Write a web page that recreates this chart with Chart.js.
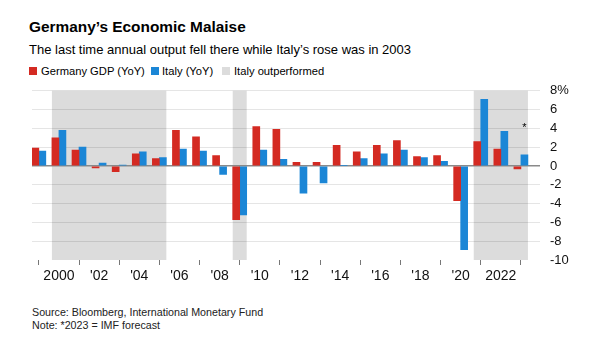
<!DOCTYPE html>
<html>
<head>
<meta charset="utf-8">
<script src="https://cdn.jsdelivr.net/npm/chart.js@4"></script>
<style>
  html, body { margin: 0; padding: 0; background: #fff; }
  body { width: 599px; height: 348px; position: relative; overflow: hidden;
         font-family: "Liberation Sans", Arial, sans-serif; color: #000; }
  .t { position: absolute; left: 29px; white-space: nowrap; }
  #title { top: 19px; font-size: 15.4px; line-height: 16px; font-weight: bold; }
  #sub { top: 43px; font-size: 13px; line-height: 14px; }
  .lg { position: absolute; top: 65px; font-size: 11.2px; line-height: 12px; white-space: nowrap; }
  .sw { position: absolute; top: 67px; width: 8px; height: 8px; }
  #foot { top: 306px; left: 32px; font-size: 10.7px; line-height: 12.5px; color: #222; }
  #wrap { position: absolute; left: 0; top: 73px; width: 599px; height: 217px; }
</style>
</head>
<body>
<div class="t" id="title">Germany’s Economic Malaise</div>
<div class="t" id="sub">The last time annual output fell there while Italy’s rose was in 2003</div>
<div class="sw" style="left:29px;background:#d42a22"></div><div class="lg" style="left:41px">Germany GDP (YoY)</div>
<div class="sw" style="left:151px;background:#1b86d6"></div><div class="lg" style="left:162px">Italy (YoY)</div>
<div class="sw" style="left:222px;background:#dcdcdc"></div><div class="lg" style="left:234px">Italy outperformed</div>
<div class="t" id="foot">Source: Bloomberg, International Monetary Fund<br>Note: *2023 = IMF forecast</div>
<div id="wrap"><canvas id="chart"></canvas></div>
<script>
// data
var years   = [1999, 2000, 2001, 2002, 2003, 2004, 2005, 2006, 2007, 2008, 2009, 2010, 2011,
               2012, 2013, 2014, 2015, 2016, 2017, 2018, 2019, 2020, 2021, 2022, 2023];
var germany = [1.9, 3.0, 1.7, -0.2, -0.6, 1.3, 0.8, 3.8, 3.1, 1.1, -5.7, 4.2, 3.9,
               0.4, 0.4, 2.2, 1.5, 2.2, 2.7, 1.0, 1.1, -3.7, 2.6, 1.8, -0.3];
var italy   = [1.6, 3.8, 2.0, 0.3, 0.1, 1.5, 0.9, 1.8, 1.6, -0.9, -5.2, 1.7, 0.7,
               -2.9, -1.8, 0.05, 0.8, 1.3, 1.7, 0.9, 0.5, -8.9, 7.1, 3.7, 1.2];
var outperformed = [[2000, 2005], [2009, 2009], [2021, 2023]];
var tickYears  = [2000, 2002, 2004, 2006, 2008, 2010, 2012, 2014, 2016, 2018, 2020, 2022];
var tickLabels = ['2000', "'02", "'04", "'06", "'08", "'10", "'12", "'14", "'16", "'18", "'20", '2022'];
var forecastYear = 2023;

var RED = '#d42a22', BLUE = '#1b86d6', SHADE = '#dcdcdc';
var BAR = 7;

function pts(vals) {
    var out = [];
    for (var i = 0; i < years.length; i++) out.push({x: years[i], y: vals[i]});
    return out;
}

var shading = {
    id: 'shading',
    beforeDraw: function (chart) {
        var ctx = chart.ctx, x = chart.scales.x, y = chart.scales.y;
        ctx.save();
        ctx.fillStyle = SHADE;
        for (var i = 0; i < outperformed.length; i++) {
            var l = x.getPixelForValue(outperformed[i][0]) - BAR;
            var r = x.getPixelForValue(outperformed[i][1]) + BAR;
            var t = y.getPixelForValue(8), b = y.getPixelForValue(-10);
            ctx.fillRect(l, t, r - l, b - t);
        }
        ctx.restore();
    },
    afterDatasetsDraw: function (chart) {
        var ctx = chart.ctx, x = chart.scales.x, y = chart.scales.y;
        ctx.save();
        ctx.fillStyle = '#000';
        ctx.font = '11px "Liberation Sans", Arial';
        ctx.textAlign = 'center';
        ctx.textBaseline = 'middle';
        ctx.fillText('*', x.getPixelForValue(forecastYear) + BAR / 2, y.getPixelForValue(4));
        ctx.restore();
    }
};

var chart = new Chart(document.getElementById('chart').getContext('2d'), {
    type: 'bar',
    data: {
        datasets: [
            { label: 'Germany GDP (YoY)', data: pts(germany), backgroundColor: RED, barThickness: BAR },
            { label: 'Italy (YoY)', data: pts(italy), backgroundColor: BLUE, barThickness: BAR }
        ]
    },
    options: {
        responsive: true,
        maintainAspectRatio: false,
        animation: false,
        layout: { padding: { left: 32, top: 2, right: 0, bottom: 0 } },
        plugins: { legend: { display: false }, tooltip: { enabled: false } },
        scales: {
            x: {
                type: 'linear',
                min: 1998.66,
                max: 2023.95,
                offset: false,
                afterBuildTicks: function (s) {
                    s.ticks = tickYears.map(function (v) { return {value: v}; });
                },
                afterFit: function (s) { s.height = 30; },
                border: { display: false },
                grid: { drawOnChartArea: false, drawTicks: true, tickLength: 5, color: '#777', lineWidth: 1 },
                ticks: {
                    padding: 3,
                    maxRotation: 0,
                    autoSkip: false,
                    color: '#111',
                    font: { family: '"Liberation Sans", Arial', size: 14 },
                    callback: function (v) {
                        var i = tickYears.indexOf(v);
                        return i >= 0 ? tickLabels[i] : '';
                    }
                }
            },
            y: {
                position: 'right',
                min: -10,
                max: 8,
                afterFit: function (s) { s.width = 59; },
                border: { display: false },
                grid: {
                    drawTicks: false,
                    lineWidth: function (c) { return c.tick.value === 0 ? 1.5 : 1; },
                    color: function (c) {
                        if (c.tick.value === 0) return '#8a8a8a';
                        if (c.tick.value === -10) return 'rgba(0,0,0,0)';
                        return 'rgba(0,0,0,0.1)';
                    }
                },
                ticks: {
                    stepSize: 2,
                    autoSkip: false,
                    padding: 10,
                    color: '#111',
                    font: { family: '"Liberation Sans", Arial', size: 13 },
                    callback: function (v) { return v === 8 ? '8%' : v; }
                }
            }
        }
    },
    plugins: [shading]
});
</script>
</body>
</html>
